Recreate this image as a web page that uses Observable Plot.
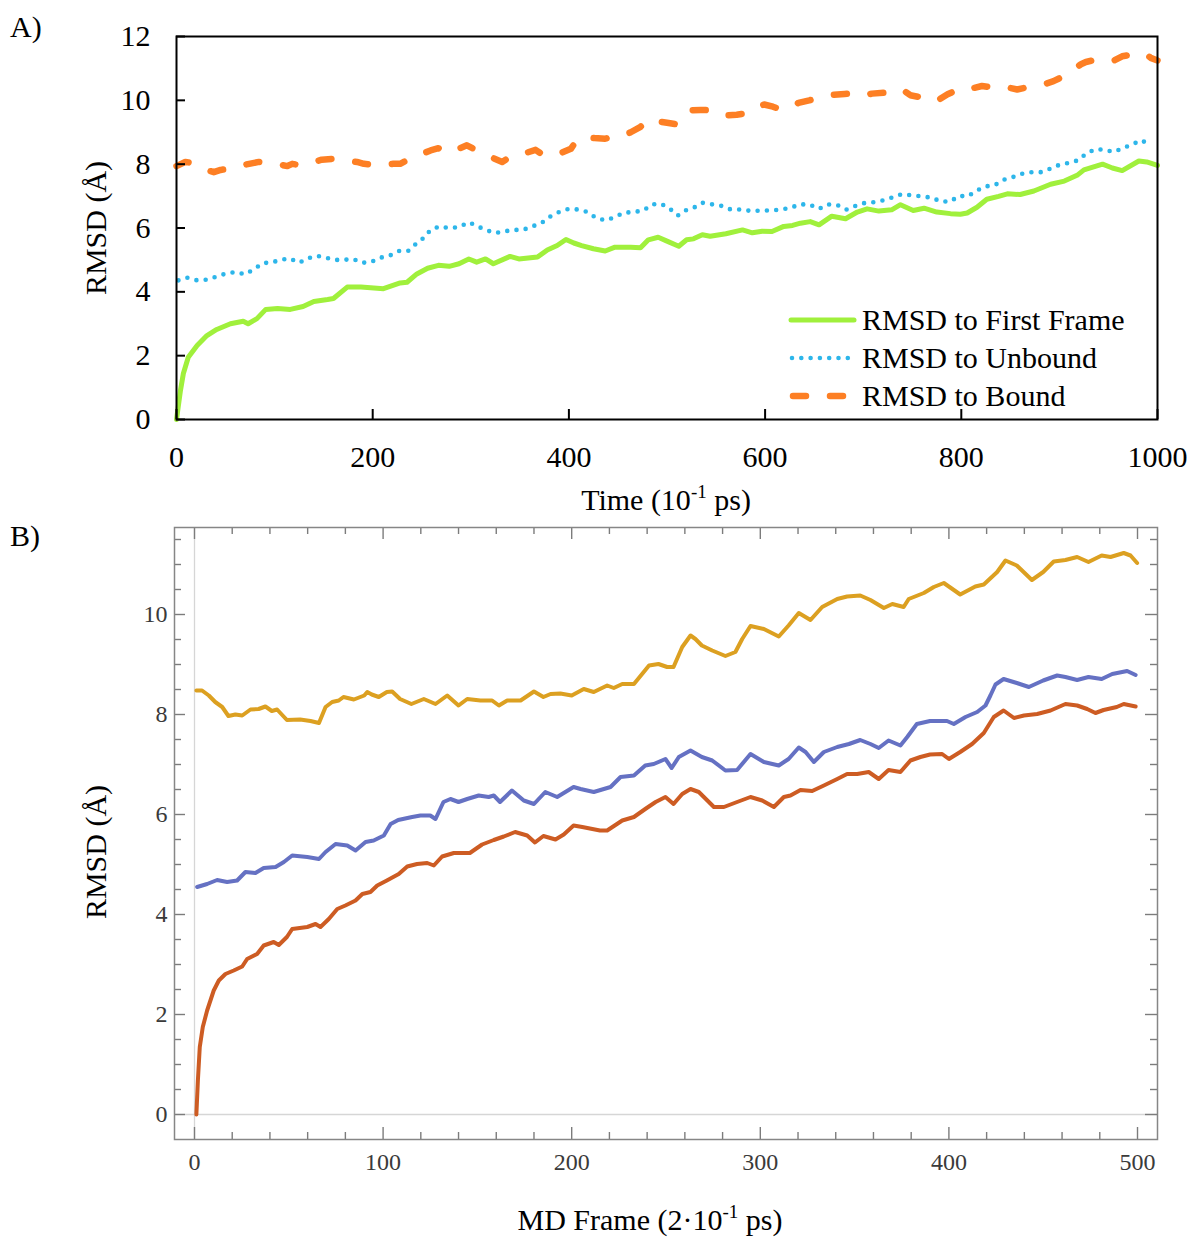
<!DOCTYPE html>
<html>
<head>
<meta charset="utf-8">
<script src="https://cdn.jsdelivr.net/npm/d3@7"></script>
<script src="https://cdn.jsdelivr.net/npm/@observablehq/plot@0.6"></script>
<style>
  body { margin: 0; background: #fff; }
  #fig { width: 1190px; height: 1239px; background: #fff; }
  #fig svg { display: block; }
</style>
</head>
<body>
<div id="fig"></div>
<script>
// ---------- Panel A data (Time, 10^-1 ps) ----------
const aFirstX = [0,4,7,12,21,31,41,55,68,73,82,91,103,116,129,140,154,160,174,188,211,228,235,245,256,267,278,288,298,306,315,323,340,349,368,378,388,397,405,413,425,437,447,463,473,481,491,500,512,520,527,536,544,560,577,587,597,607,619,628,636,646,655,668,682,694,704,716,729,738,751,762,775,789,799,806,816,826,838,847,860,874,891,905,918,925,944,954,964,981,989,1000];
const aFirstY = [0,0.9,1.44,1.95,2.32,2.63,2.82,3.0,3.08,3.0,3.16,3.45,3.48,3.45,3.54,3.7,3.76,3.79,4.15,4.15,4.1,4.28,4.3,4.56,4.74,4.83,4.8,4.88,5.03,4.93,5.03,4.88,5.11,5.03,5.09,5.31,5.45,5.64,5.53,5.45,5.35,5.28,5.4,5.4,5.38,5.63,5.71,5.59,5.43,5.63,5.66,5.79,5.74,5.82,5.94,5.85,5.9,5.89,6.05,6.08,6.15,6.2,6.1,6.37,6.29,6.5,6.6,6.53,6.57,6.73,6.55,6.62,6.5,6.45,6.43,6.47,6.65,6.9,6.99,7.07,7.05,7.16,7.37,7.47,7.65,7.82,8.0,7.88,7.8,8.1,8.07,7.96];

const aUnboundX = [2,11,21,31,41,50,60,70,79,88,97,106,115,125,134,143,152,161,170,180,189,198,208,217,227,236,244,252,259,268,278,288,298,307,317,325,335,344,353,363,373,381,390,400,409,419,428,437,447,456,466,476,485,494,503,511,520,527,536,546,556,565,576,586,596,606,616,626,635,645,655,664,673,683,692,702,711,721,731,740,750,760,770,779,789,797,807,815,824,834,843,853,862,872,881,891,900,910,919,927,936,945,955,965,974,984,994];
const aUnboundY = [4.36,4.44,4.36,4.38,4.48,4.57,4.62,4.55,4.71,4.9,4.92,5.0,5.05,4.91,5.05,5.13,5.07,5.0,5.0,5.03,4.91,4.93,5.07,5.13,5.28,5.28,5.5,5.69,5.94,6.05,6.0,6.03,6.18,6.05,5.92,5.84,5.9,5.94,5.94,6.05,6.18,6.36,6.5,6.6,6.58,6.5,6.31,6.24,6.34,6.48,6.5,6.55,6.74,6.76,6.6,6.39,6.57,6.63,6.79,6.74,6.69,6.58,6.58,6.53,6.55,6.55,6.58,6.63,6.74,6.74,6.6,6.74,6.73,6.58,6.69,6.79,6.81,6.87,6.97,7.07,7.02,6.99,6.95,6.83,6.83,7.0,7.0,7.16,7.3,7.34,7.51,7.6,7.7,7.75,7.75,7.86,7.98,8.04,8.12,8.32,8.46,8.46,8.38,8.5,8.62,8.75,8.55];

const aBoundX = [0,9,16,27,38,45,55,65,74,84,92,103,113,118,128,138,148,160,166,175,184,191,201,211,221,228,238,248,259,267,274,285,296,303,312,322,332,337,346,356,366,374,383,392,402,408,415,426,437,446,454,463,473,481,489,500,510,517,524,534,544,553,561,571,582,590,599,608,617,626,634,645,655,668,681,694,701,709,721,733,740,748,758,769,775,786,794,803,809,821,831,842,848,857,866,876,884,894,904,913,922,927,938,949,956,964,976,988,993,1000];
const aBoundY = [7.94,8.07,8.04,7.85,7.75,7.82,7.86,7.95,8.01,8.07,8.05,8.0,7.94,8.01,7.96,8.05,8.14,8.17,8.14,8.1,8.07,8.01,7.98,7.98,8.01,8.01,8.17,8.3,8.43,8.5,8.36,8.45,8.59,8.48,8.36,8.2,8.07,8.17,8.2,8.35,8.45,8.28,8.28,8.35,8.48,8.75,8.85,8.82,8.8,8.87,8.87,9.0,9.17,9.4,9.35,9.3,9.25,9.5,9.69,9.7,9.69,9.55,9.53,9.55,9.6,9.77,9.87,9.8,9.7,9.78,9.92,10.0,10.08,10.17,10.2,10.23,10.16,10.21,10.24,10.26,10.34,10.16,10.1,10.08,9.98,10.19,10.3,10.4,10.36,10.45,10.4,10.36,10.4,10.34,10.4,10.47,10.5,10.6,10.75,10.94,11.13,11.2,11.28,11.3,11.25,11.38,11.45,11.46,11.33,11.25];

const aXTicks = [0,200,400,600,800,1000];
const aYTicks = [0,2,4,6,8,10,12];
const aLegend = ["RMSD to First Frame","RMSD to Unbound","RMSD to Bound"];

// ---------- Panel B data (MD Frame) ----------
const bBoundX = [1,4,7.6,11,14.7,18,21.7,25.3,29.7,34,37.6,41,43.8,49,56,61.5,66,69.5,73,76.5,79,84.5,90,91.6,94,97.7,102,104.8,109,115,121.6,127.8,134,140,144.6,151.6,157.8,161.4,165.8,172.9,180,185,188.8,194,200,206.4,211.7,218.8,222.3,226.8,233,241,246,250.6,254,258.6,263,265.6,269,274.5,281.5,286.8,290.4,294.8,301.9,309.8,315,320.4,326.6,332.8,340.8,346,353,358.4,365.5,370,376,378.7,386.7,392,397.3,406,414,418.5,425.6,430,436,444,450,455.6,461.8,468,474,481,485.7,492.7,496.3,499.8];
const bBoundY = [8.48,8.48,8.38,8.25,8.15,7.97,8.0,7.98,8.1,8.11,8.16,8.07,8.1,7.89,7.9,7.87,7.83,8.15,8.25,8.28,8.35,8.3,8.38,8.45,8.4,8.35,8.45,8.46,8.31,8.21,8.31,8.21,8.38,8.18,8.31,8.28,8.28,8.18,8.28,8.28,8.46,8.35,8.41,8.42,8.38,8.51,8.45,8.58,8.53,8.61,8.61,8.98,9.01,8.95,8.95,9.35,9.58,9.51,9.38,9.28,9.17,9.25,9.51,9.77,9.71,9.56,9.78,10.03,9.89,10.15,10.31,10.36,10.38,10.29,10.13,10.21,10.15,10.31,10.43,10.55,10.63,10.4,10.56,10.6,10.85,11.08,10.98,10.69,10.85,11.06,11.09,11.15,11.05,11.18,11.15,11.23,11.18,11.03];

const bUnboundX = [1.4,6.7,12,17.3,22.6,27,32.3,36.7,43,47.4,51.8,59.8,66,69.5,74.8,81,85.4,90.7,95,100.4,104,108,115.4,119.8,125,127.8,132,135.7,140,144.6,150.7,156,158.7,162,168.3,174.6,180,186,192.3,201,204.7,211.7,220.6,225.9,233,239,243.5,249.7,253,256.8,263,269,274.5,281.5,287.7,294.8,301.9,309.8,315,320.4,324,328.4,333.7,340.8,347,353,358.4,362.8,368,374.3,377.9,383,390,399,402.6,408.8,415,419.4,422,424.7,429,436,442.4,450,457.4,461.8,468,474,481,486.6,494.5,499];
const bUnboundY = [4.55,4.61,4.69,4.65,4.68,4.85,4.83,4.93,4.95,5.05,5.18,5.15,5.11,5.25,5.41,5.38,5.28,5.45,5.48,5.58,5.81,5.89,5.95,5.98,5.98,5.91,6.25,6.31,6.25,6.31,6.38,6.35,6.38,6.25,6.48,6.28,6.21,6.45,6.35,6.55,6.51,6.45,6.55,6.75,6.78,6.98,7.01,7.11,6.93,7.15,7.28,7.15,7.08,6.88,6.89,7.21,7.05,6.98,7.11,7.34,7.25,7.05,7.25,7.35,7.41,7.49,7.41,7.33,7.48,7.38,7.55,7.81,7.87,7.87,7.81,7.95,8.05,8.18,8.38,8.6,8.71,8.63,8.55,8.68,8.78,8.75,8.69,8.75,8.71,8.81,8.87,8.79];

const bFirstX = [1,1.8,2.8,4.4,6.7,10.2,12.9,16.4,20.8,25.3,27.9,33.2,36.7,42,44.7,49,51.8,59.8,64.2,66.8,71.2,75.7,80,85.4,89,93.3,96.9,102,108.3,112.8,118,123.4,126.9,131.3,137.5,146,152.5,158.7,164,170,176.4,180.5,185,191.4,195.8,201,205.6,215,218.8,226.8,233,239,244.5,249.7,254,258.6,263,267.4,275.4,280.7,287.7,294.8,301,307.2,312.5,316,321.3,327.5,333.7,340.8,346,351.4,357.5,362.8,368,374.3,379.6,384.9,390,396.4,400,406,412.3,418.5,423.8,429,434.5,439.8,446.8,453.9,461.8,468,473.3,477.7,482,489,492.7,499];
const bFirstY = [0,0.68,1.35,1.75,2.08,2.48,2.68,2.81,2.88,2.96,3.11,3.21,3.38,3.45,3.39,3.55,3.71,3.75,3.81,3.75,3.91,4.11,4.18,4.28,4.41,4.45,4.58,4.68,4.81,4.96,5.01,5.03,4.98,5.16,5.23,5.23,5.4,5.49,5.56,5.65,5.58,5.44,5.57,5.5,5.6,5.78,5.75,5.68,5.68,5.88,5.95,6.11,6.25,6.35,6.21,6.41,6.51,6.45,6.15,6.15,6.25,6.35,6.28,6.15,6.35,6.38,6.49,6.47,6.58,6.71,6.81,6.81,6.85,6.71,6.89,6.85,7.08,7.15,7.2,7.21,7.11,7.25,7.41,7.63,7.95,8.08,7.93,7.98,8.01,8.08,8.21,8.18,8.11,8.03,8.09,8.15,8.21,8.16];

const bXMajor = [0,100,200,300,400,500];
const bYMajor = [0,2,4,6,8,10];
const bXMinor = d3.range(20, 500, 20).filter(v => v % 100 !== 0);
const bYMinor = d3.range(0.5, 11.75, 0.5).filter(v => v % 2 !== 0);

// ---------- layout ----------
const serif = "'Liberation Serif','Times New Roman',Times,serif";
const W = 1190;
const fig = document.getElementById("fig");
const plain = d => String(d);

// Panel A geometry
const aH = 515, aTop = 36, aBottom = 419, aLeft = 176, aRight = 1157;
const aFW = aRight - aLeft, aFH = aBottom - aTop;

const cGreen = "#a0f03c", cBlue = "#2db6ea", cOrange = "#fd7f24";

const svgA = Plot.plot({
  width: W, height: aH,
  marginLeft: aLeft, marginRight: W - aRight, marginTop: aTop, marginBottom: aH - aBottom,
  style: {fontFamily: serif, fontSize: "30px", background: "white", color: "black", overflow: "visible"},
  x: {domain: [0, 1000]},
  y: {domain: [0, 12]},
  marks: [
    Plot.line(d3.zip(aBoundX, aBoundY), {x: d => d[0], y: d => d[1], stroke: cOrange, strokeWidth: 6.5, strokeDasharray: "13,24", strokeLinecap: "round", strokeLinejoin: "round"}),
    Plot.line(d3.zip(aUnboundX, aUnboundY), {x: d => d[0], y: d => d[1], stroke: cBlue, strokeWidth: 4.6, strokeDasharray: "0,9.3", strokeLinecap: "round", strokeLinejoin: "round"}),
    Plot.line(d3.zip(aFirstX, aFirstY), {x: d => d[0], y: d => d[1], stroke: cGreen, strokeWidth: 5, strokeLinecap: "round", strokeLinejoin: "round"}),
    Plot.tickX(aXTicks, {x: d => d, insetTop: aFH - 10, stroke: "black", strokeWidth: 2}),
    Plot.tickY(aYTicks, {y: d => d, insetRight: aFW - 9, stroke: "black", strokeWidth: 2}),
    Plot.axisX({ticks: aXTicks, tickFormat: plain, tickSize: 0, tickPadding: 26, label: null, fontSize: 30}),
    Plot.axisY({ticks: aYTicks, tickFormat: plain, tickSize: 0, tickPadding: 26, label: null, fontSize: 30}),
    Plot.frame({stroke: "black", strokeWidth: 2})
  ]
});
fig.appendChild(svgA);

// Panel B geometry
const bOff = 515, bH = 724, bTop = 527, bBottom = 1139, bLeft = 174, bRight = 1157;
const bFW = bRight - bLeft, bFH = bBottom - bTop;
const cB1 = "#dca021", cB2 = "#6571c3", cB3 = "#cd5c23";
const tickCol = "#7c7c7c";

const svgB = Plot.plot({
  width: W, height: bH,
  marginLeft: bLeft, marginRight: W - bRight, marginTop: bTop - bOff, marginBottom: bOff + bH - bBottom,
  style: {fontFamily: serif, fontSize: "24px", background: "white", color: "black", overflow: "visible"},
  x: {domain: [-10.6, 510.6]},
  y: {domain: [-0.5, 11.74]},
  marks: [
    Plot.ruleX([0], {stroke: "#d6d6d6", strokeWidth: 1.3}),
    Plot.ruleY([0], {stroke: "#d6d6d6", strokeWidth: 1.3}),
    Plot.line(d3.zip(bBoundX, bBoundY), {x: d => d[0], y: d => d[1], stroke: cB1, strokeWidth: 4, strokeLinejoin: "round"}),
    Plot.line(d3.zip(bUnboundX, bUnboundY), {x: d => d[0], y: d => d[1], stroke: cB2, strokeWidth: 4, strokeLinejoin: "round"}),
    Plot.line(d3.zip(bFirstX, bFirstY), {x: d => d[0], y: d => d[1], stroke: cB3, strokeWidth: 4, strokeLinejoin: "round"}),
    // bottom ticks
    Plot.tickX(bXMajor, {x: d => d, insetTop: bFH - 12, stroke: tickCol, strokeWidth: 1.4}),
    Plot.tickX(bXMinor, {x: d => d, insetTop: bFH - 7, stroke: tickCol, strokeWidth: 1.4}),
    // top ticks
    Plot.tickX(bXMajor, {x: d => d, insetBottom: bFH - 12, stroke: tickCol, strokeWidth: 1.4}),
    Plot.tickX(bXMinor, {x: d => d, insetBottom: bFH - 7, stroke: tickCol, strokeWidth: 1.4}),
    // left ticks
    Plot.tickY(bYMajor, {y: d => d, insetRight: bFW - 11, stroke: tickCol, strokeWidth: 1.4}),
    Plot.tickY(bYMinor, {y: d => d, insetRight: bFW - 7, stroke: tickCol, strokeWidth: 1.4}),
    // right ticks
    Plot.tickY(bYMajor, {y: d => d, insetLeft: bFW - 12, stroke: tickCol, strokeWidth: 1.4}),
    Plot.tickY(bYMinor, {y: d => d, insetLeft: bFW - 7, stroke: tickCol, strokeWidth: 1.4}),
    Plot.axisX({ticks: bXMajor, tickFormat: plain, tickSize: 0, tickPadding: 13, label: null, fill: "#3a3a3a", fontSize: 24}),
    Plot.axisY({ticks: bYMajor, tickFormat: plain, tickSize: 0, tickPadding: 7, label: null, fill: "#3a3a3a", fontSize: 24}),
    Plot.frame({stroke: "#868686", strokeWidth: 1.5})
  ]
});
fig.appendChild(svgB);

// ---------- text: panel labels, axis titles, legend ----------
function txt(svg, x, y, parts, {anchor = "start", rotate = 0, size = 30, fill = "black"} = {}) {
  const t = d3.select(svg).append("text")
    .attr("transform", `translate(${x},${y})` + (rotate ? ` rotate(${rotate})` : ""))
    .attr("text-anchor", anchor)
    .attr("font-family", serif)
    .attr("font-size", size)
    .attr("fill", fill);
  for (const p of parts) {
    if (typeof p === "string") t.append("tspan").text(p);
    else t.append("tspan").attr("font-size", p.size).attr("dy", p.dy).text(p.t);
  }
  return t;
}

// Panel A
txt(svgA, 10, 37, ["A)"]);
txt(svgA, 666, 510, ["Time (10", {t: "-1", size: 19, dy: -12}, {t: " ps)", size: 30, dy: 12}], {anchor: "middle"});
txt(svgA, 106, 228, ["RMSD (Å)"], {anchor: "middle", rotate: -90});

// legend in panel A
const legA = d3.select(svgA).append("g");
const legY = [320, 358, 396];
const legStyle = [
  {stroke: cGreen, w: 5, dash: null, x1: 791, x2: 854},
  {stroke: cBlue, w: 4.6, dash: "0,9.3", x1: 792, x2: 852},
  {stroke: cOrange, w: 6.5, dash: "13,24", x1: 793, x2: 850}
];
legStyle.forEach((s, i) => {
  const l = legA.append("line")
    .attr("x1", s.x1).attr("x2", s.x2).attr("y1", legY[i]).attr("y2", legY[i])
    .attr("stroke", s.stroke).attr("stroke-width", s.w).attr("stroke-linecap", "round");
  if (s.dash) l.attr("stroke-dasharray", s.dash);
  txt(svgA, 862, legY[i] + 9.5, [aLegend[i]]);
});

// Panel B
txt(svgB, 10, 546 - bOff, ["B)"]);
txt(svgB, 650, 1230 - bOff, ["MD Frame (2·10", {t: "-1", size: 19, dy: -12}, {t: " ps)", size: 30, dy: 12}], {anchor: "middle"});
txt(svgB, 106, 852 - bOff, ["RMSD (Å)"], {anchor: "middle", rotate: -90});
</script>
</body>
</html>
